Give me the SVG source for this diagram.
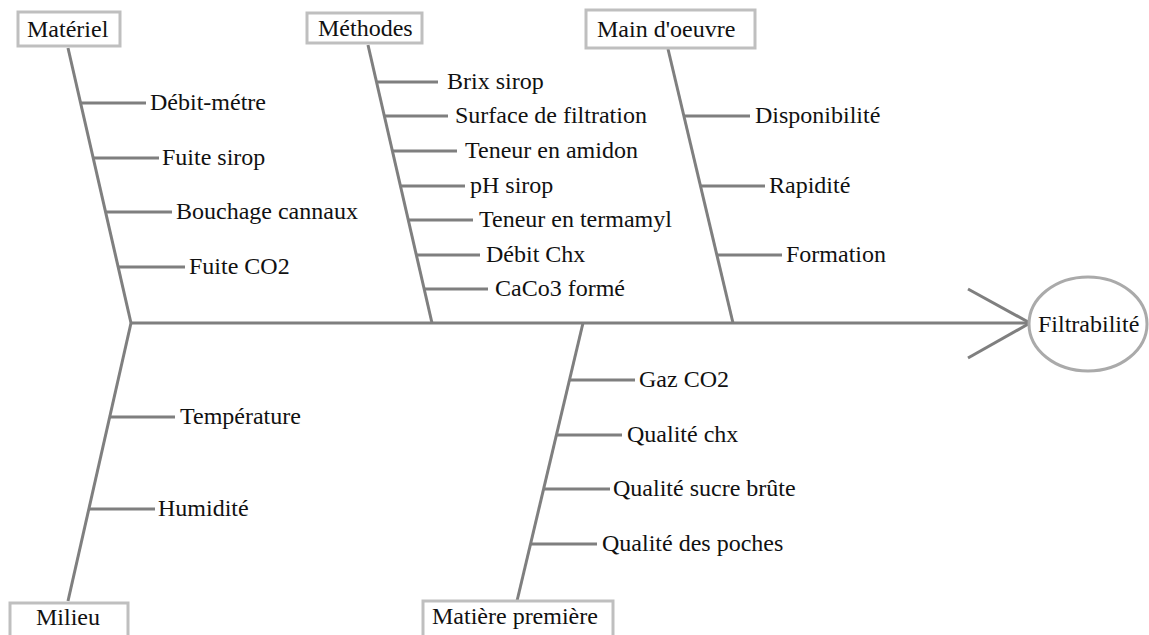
<svg xmlns="http://www.w3.org/2000/svg" width="1149" height="635" viewBox="0 0 1149 635">
<style>
.bone{stroke:#7f7f7f;stroke-width:3;fill:none;stroke-linecap:butt}
.sub{stroke:#7f7f7f;stroke-width:3;fill:none}
.box{fill:#fff;stroke:#bfbfbf;stroke-width:3}
</style>
<rect width="1149" height="635" fill="#fff"/>
<g id="connectors">
<line class="bone" x1="131" y1="323" x2="1030" y2="323"/>
<line class="bone" x1="968" y1="289" x2="1030" y2="323"/>
<line class="bone" x1="968" y1="358" x2="1030" y2="323"/>
<line class="bone" x1="68" y1="48" x2="131" y2="323"/>
<line class="bone" x1="131" y1="323" x2="68" y2="601"/>
<line class="bone" x1="368" y1="45" x2="432" y2="323"/>
<line class="bone" x1="668" y1="49" x2="733" y2="323"/>
<line class="bone" x1="583" y1="323" x2="517" y2="601"/>
<line class="sub" x1="81" y1="103" x2="146" y2="103"/>
<line class="sub" x1="94" y1="158" x2="159" y2="158"/>
<line class="sub" x1="106" y1="212" x2="172" y2="212"/>
<line class="sub" x1="119" y1="267" x2="185" y2="267"/>
<line class="sub" x1="376" y1="82" x2="438" y2="82"/>
<line class="sub" x1="384" y1="116" x2="448" y2="116"/>
<line class="sub" x1="392" y1="151" x2="457" y2="151"/>
<line class="sub" x1="400" y1="186" x2="465" y2="186"/>
<line class="sub" x1="408" y1="220" x2="473" y2="220"/>
<line class="sub" x1="416" y1="255" x2="480" y2="255"/>
<line class="sub" x1="424" y1="289" x2="488" y2="289"/>
<line class="sub" x1="684" y1="116" x2="750" y2="116"/>
<line class="sub" x1="701" y1="186" x2="765" y2="186"/>
<line class="sub" x1="717" y1="255" x2="782" y2="255"/>
<line class="sub" x1="569" y1="380" x2="635" y2="380"/>
<line class="sub" x1="557" y1="435" x2="622" y2="435"/>
<line class="sub" x1="544" y1="489" x2="610" y2="489"/>
<line class="sub" x1="531" y1="544" x2="597" y2="544"/>
<line class="sub" x1="110" y1="417" x2="175" y2="417"/>
<line class="sub" x1="89" y1="509" x2="155" y2="509"/>
</g>
<g font-family="Liberation Serif, DejaVu Serif, serif" font-size="24" fill="#111">
<g id="materiel"><rect class="box" x="18" y="12" width="102" height="34"/><text x="27" y="37">Matériel</text></g>
<g id="methodes"><rect class="box" x="307" y="13" width="115" height="30"/><text x="318" y="36">Méthodes</text></g>
<g id="main-oeuvre"><rect class="box" x="586" y="10" width="169" height="38"/><text x="597" y="37">Main d'oeuvre</text></g>
<g id="milieu"><rect class="box" x="10" y="603" width="118" height="40"/><text x="36" y="625">Milieu</text></g>
<g id="matiere"><rect class="box" x="423" y="601" width="190" height="42"/><text x="432" y="624">Matière première</text></g>
<g id="filtrabilite"><ellipse cx="1088" cy="324" rx="59" ry="47" fill="#fff" stroke="#aaa" stroke-width="3"/><text x="1038" y="332">Filtrabilité</text></g>
<g id="causes">
<text x="150" y="110">Débit-métre</text>
<text x="162" y="165">Fuite sirop</text>
<text x="176" y="219">Bouchage cannaux</text>
<text x="189" y="274">Fuite CO2</text>
<text x="447" y="89">Brix sirop</text>
<text x="455" y="123">Surface de filtration</text>
<text x="465" y="158">Teneur en amidon</text>
<text x="470" y="193">pH sirop</text>
<text x="479" y="227">Teneur en termamyl</text>
<text x="486" y="262">Débit Chx</text>
<text x="495" y="296">CaCo3 formé</text>
<text x="755" y="123">Disponibilité</text>
<text x="769" y="193">Rapidité</text>
<text x="786" y="262">Formation</text>
<text x="639" y="387">Gaz CO2</text>
<text x="627" y="442">Qualité chx</text>
<text x="613" y="496">Qualité sucre brûte</text>
<text x="602" y="551">Qualité des poches</text>
<text x="180" y="424">Température</text>
<text x="158" y="516">Humidité</text>
</g>
</g>
</svg>
